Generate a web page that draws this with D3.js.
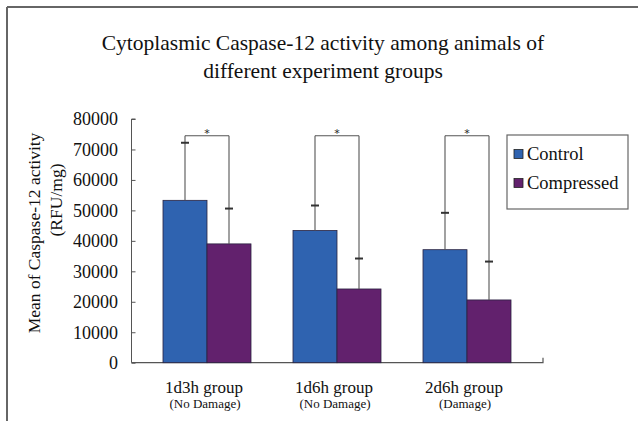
<!DOCTYPE html>
<html><head><meta charset="utf-8">
<script src="https://cdn.jsdelivr.net/npm/d3@7"></script>
<style>body{margin:0;background:#fff}svg{display:block}</style>
</head><body>
<script>
const groups = ["1d3h group", "1d6h group", "2d6h group"];
const subLabels = ["(No Damage)", "(No Damage)", "(Damage)"];
const seriesNames = ["Control", "Compressed"];
const controlMean = [53300, 43400, 37100];
const controlErr = [18900, 8200, 12100];
const compressedMean = [39000, 24200, 20600];
const compressedErr = [11600, 10000, 12600];
const sigMarks = ["*", "*", "*"];
const yTicks = [0, 10000, 20000, 30000, 40000, 50000, 60000, 70000, 80000];
const colors = ["#2f63b0", "#62216d"];

const W = 638, H = 421;
const svg = d3.select("body").append("svg").attr("width", W).attr("height", H);
const serif = "'Liberation Serif','Times New Roman',serif";

// frame
svg.append("line").attr("x1",7).attr("y1",7).attr("x2",W).attr("y2",7).attr("stroke","#666").attr("stroke-width",2);
svg.append("line").attr("x1",7).attr("y1",7).attr("x2",7).attr("y2",H).attr("stroke","#666").attr("stroke-width",2);

const y = d3.scaleLinear().domain([0, 80000]).range([362.7, 119]);
const x0 = d3.scaleBand().domain(groups).range([142, 532]).paddingInner(0.323).paddingOuter(0.1615);
const x1 = d3.scaleBand().domain(seriesNames).range([0, x0.bandwidth()]);

// title
const title = svg.append("text").attr("font-family", serif).attr("font-size", 21.5).attr("text-anchor","middle").attr("fill","#111");
title.append("tspan").attr("x",323).attr("y",50).text("Cytoplasmic Caspase-12 activity among animals of");
title.append("tspan").attr("x",323).attr("y",78).text("different experiment groups");

// y label
svg.append("text").attr("font-family",serif).attr("font-size",17.5).attr("text-anchor","middle").attr("fill","#111")
  .attr("transform","translate(40,233) rotate(-90)").text("Mean of Caspase-12 activity");
svg.append("text").attr("font-family",serif).attr("font-size",17.5).attr("text-anchor","middle").attr("fill","#111")
  .attr("transform","translate(62,200) rotate(-90)").text("(RFU/mg)");

// y axis
const yAxis = d3.axisRight(y).tickValues(yTicks).tickSize(4).tickFormat("");
const ya = svg.append("g").attr("transform","translate(131.5,0)").call(yAxis);
ya.select(".domain").attr("stroke","#555").attr("d", `M4,${y(80000)}H0V${y(0)}`);
ya.selectAll(".tick line").attr("stroke","#555");
svg.append("g").selectAll("text").data(yTicks).join("text")
  .attr("x",118).attr("y",d=>y(d)).attr("dy","0.35em").attr("text-anchor","end")
  .attr("font-family",serif).attr("font-size",18).attr("fill","#111").text(d=>d);

// x axis line
svg.append("path").attr("d",`M131.5,${y(0)}H543V${y(0)-5}`).attr("fill","none").attr("stroke","#555").attr("stroke-width",1.2);

// bars
const data = groups.map((g,i)=>({g, i, vals:[
  {s:seriesNames[0], m:controlMean[i], e:controlErr[i]},
  {s:seriesNames[1], m:compressedMean[i], e:compressedErr[i]}]}));
const gg = svg.append("g").selectAll("g").data(data).join("g").attr("transform",d=>`translate(${x0(d.g)},0)`);
gg.selectAll("rect").data(d=>d.vals).join("rect")
  .attr("x",d=>x1(d.s)).attr("width",x1.bandwidth()).attr("y",d=>y(d.m)).attr("height",d=>y(0)-y(d.m))
  .attr("fill",(d,j)=>colors[j]).attr("stroke","#2a2340").attr("stroke-width",0.8);

// error bars + significance brackets
const bracketY = 135.7;
gg.each(function(d){
  const g = d3.select(this);
  d.vals.forEach((v)=>{
    const cx = x1(v.s) + x1.bandwidth()/2;
    g.append("line").attr("x1",cx).attr("x2",cx).attr("y1",y(v.m)).attr("y2",bracketY).attr("stroke","#555").attr("stroke-width",1.1);
    g.append("line").attr("x1",cx-4).attr("x2",cx+4).attr("y1",y(v.m+v.e)).attr("y2",y(v.m+v.e)).attr("stroke","#333").attr("stroke-width",2);
  });
  const a = x1(seriesNames[0]) + x1.bandwidth()/2, b = x1(seriesNames[1]) + x1.bandwidth()/2;
  g.append("line").attr("x1",a).attr("x2",b).attr("y1",bracketY).attr("y2",bracketY).attr("stroke","#555").attr("stroke-width",1.1);
  g.append("text").attr("x",(a+b)/2).attr("y",bracketY+1).attr("text-anchor","middle").attr("font-family","'DejaVu Sans',sans-serif").attr("font-size",11).attr("fill","#222").text(sigMarks[d.i]);
});

// x labels
svg.append("g").selectAll("text").data(groups).join("text")
  .attr("x",d=>x0(d)+x0.bandwidth()/2-3).attr("y",393).attr("text-anchor","middle")
  .attr("font-family",serif).attr("font-size",17).attr("fill","#111").text(d=>d);
svg.append("g").selectAll("text").data(subLabels).join("text")
  .attr("x",(d,i)=>x0(groups[i])+x0.bandwidth()/2-2).attr("y",408).attr("text-anchor","middle")
  .attr("font-family",serif).attr("font-size",13).attr("fill","#111").text(d=>d);

// legend
const lg = svg.append("g");
lg.append("rect").attr("x",507).attr("y",135).attr("width",121).attr("height",74).attr("fill","#fff").attr("stroke","#666").attr("stroke-width",1.2);
seriesNames.forEach((s,i)=>{
  const cy = 154 + i*29;
  lg.append("rect").attr("x",514).attr("y",cy-4.5).attr("width",9).attr("height",9).attr("fill",colors[i]).attr("stroke","#222").attr("stroke-width",0.8);
  lg.append("text").attr("x",527).attr("y",cy+6).attr("font-family",serif).attr("font-size",18.5).attr("fill","#111").text(s);
});
</script>
</body></html>
